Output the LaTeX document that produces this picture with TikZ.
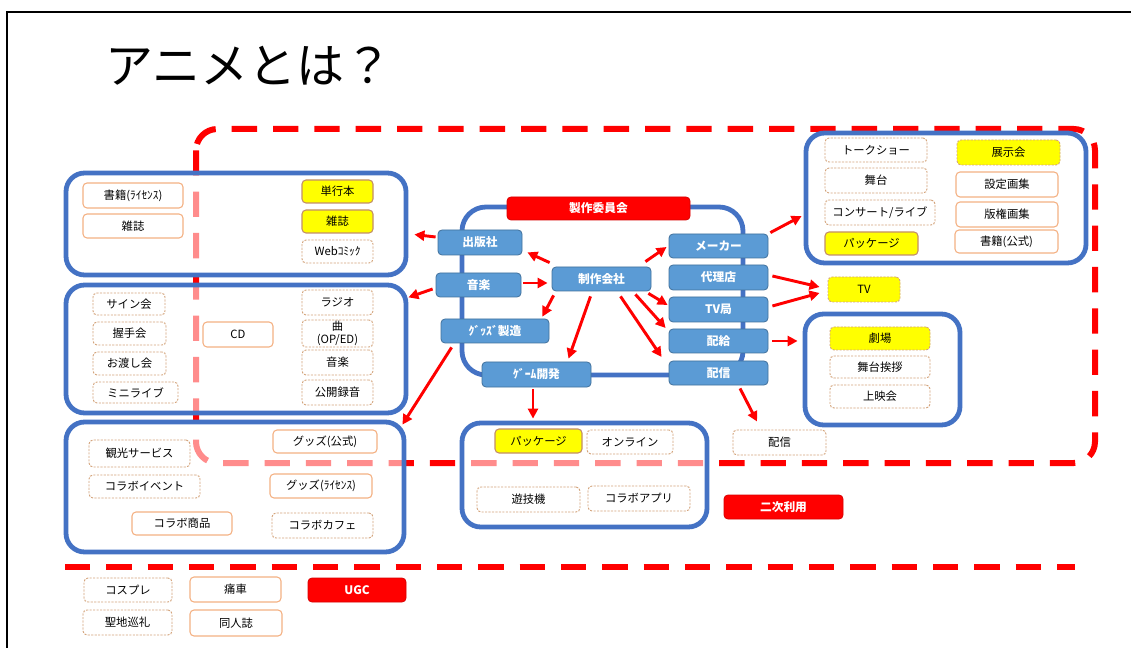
\documentclass[tikz,border=0pt]{standalone}
\usepackage{fontspec}
\setmainfont{Noto Sans CJK JP}
\usetikzlibrary{arrows.meta,calc}
\definecolor{ringblue}{HTML}{4472C4}
\definecolor{nodeblue}{HTML}{5B9BD5}
\definecolor{nodeedge}{HTML}{41719C}
\definecolor{tanline}{HTML}{F4B183}
\definecolor{tandash}{HTML}{D4A47C}
\definecolor{yel}{HTML}{FFFF00}
\definecolor{rd}{HTML}{FF0000}
\newcommand{\bx}[7]{\node[#1, minimum width={(#5-#3)*0.75pt}, minimum height={(#6-#4)*0.75pt}] (#2) at ({(#3+#5)/2},{(#4+#6)/2}) {#7};}
\tikzset{
  every node/.style={inner sep=0pt, font=\fontsize{8.5}{9.5}\selectfont},
  sbox/.style={draw=tanline, line width=0.8pt, rounded corners=3pt, fill=white},
  dbox/.style={draw=tandash, line width=0.7pt, dash pattern=on 1.6pt off 1pt, rounded corners=3pt, fill=white},
  ysbox/.style={sbox, fill=yel, draw=tanline!80!black},
  ydbox/.style={dbox, fill=yel},
  bnode/.style={draw=nodeedge, line width=0.6pt, fill=nodeblue, rounded corners=3pt, text=white, font=\bfseries\fontsize{8.8}{10}\selectfont},
  rnode/.style={draw=rd!85!black, line width=0.6pt, fill=rd, rounded corners=3pt, text=white, font=\bfseries\fontsize{8.8}{10}\selectfont},
  bframe/.style={draw=ringblue, line width=3.6pt, rounded corners=14pt, fill=white, fill opacity=0.55},
  ringframe/.style={draw=ringblue, line width=3.6pt, rounded corners=18pt},
  reddash/.style={draw=rd, line width=4.5pt, dash pattern=on 19pt off 12pt},
  arr/.style={draw=rd, line width=2.2pt, -{Triangle[length=7.5pt,width=7.5pt]}},
}
\begin{document}
\begin{tikzpicture}[x=0.75pt,y=-0.75pt]
\useasboundingbox (0,0) rectangle (1131,648);
\fill[white] (0,0) rectangle (1131,648);
% frame
\draw[line width=2.2pt] (7,648) -- (7,12) -- (1131,12);
% title
\node[anchor=west, font=\fontsize{36}{40}\selectfont] (title) at (105,66) {アニメとは？};
% outer dashed regions
\draw[reddash, rounded corners=16pt] (196,129) rectangle (1095,463);
\draw[reddash] (65,567) -- (1075,567);
% blue frames
\bx{bframe}{tl}{66}{173}{406}{275}{}
\bx{bframe}{ml}{66}{285}{406}{413}{}
\bx{bframe}{bl}{66}{422}{404}{552}{}
\bx{bframe}{rt}{806}{133}{1086}{263}{}
\bx{bframe}{thb}{805}{314}{960}{425}{}
\bx{bframe}{bc}{462}{423}{707}{527}{}
\bx{ringframe}{ring}{462}{207}{743}{375}{}
% top-left
\bx{sbox}{a1}{83}{183}{183}{208}{書籍(ﾗｲｾﾝｽ)}
\bx{sbox}{a2}{83}{214}{183}{238}{雑誌}
\bx{ysbox}{a3}{302}{180}{373}{203}{単行本}
\bx{ysbox}{a4}{302}{210}{373}{233}{雑誌}
\bx{dbox}{a5}{302}{240}{373}{263}{Webｺﾐｯｸ}
% middle-left
\bx{dbox}{b1}{93}{293}{165}{315}{サイン会}
\bx{dbox}{b2}{93}{322}{166}{345}{握手会}
\bx{dbox}{b3}{93}{352}{166}{375}{お渡し会}
\bx{dbox}{b4}{93}{382}{178}{403}{ミニライブ}
\bx{sbox}{b5}{203}{322}{273}{347}{CD}
\bx{dbox}{b6}{302}{290}{373}{315}{ラジオ}
\bx{dbox, align=center, font=\fontsize{8.5}{10}\selectfont}{b7}{302}{320}{373}{347}{曲\\(OP/ED)}
\bx{dbox}{b8}{302}{350}{373}{375}{音楽}
\bx{dbox}{b9}{302}{380}{373}{405}{公開録音}
% bottom-left
\bx{dbox}{c1}{89}{440}{190}{467}{観光サービス}
\bx{sbox}{c2}{273}{430}{377}{453}{グッズ(公式)}
\bx{dbox}{c3}{89}{475}{200}{498}{コラボイベント}
\bx{sbox}{c4}{270}{474}{372}{498}{グッズ(ﾗｲｾﾝｽ)}
\bx{sbox}{c5}{132}{512}{232}{535}{コラボ商品}
\bx{dbox}{c6}{272}{513}{373}{538}{コラボカフェ}
% right-top
\bx{dbox}{d1}{825}{138}{927}{162}{トークショー}
\bx{ydbox}{d2}{957}{140}{1060}{165}{展示会}
\bx{dbox}{d3}{825}{168}{927}{193}{舞台}
\bx{sbox}{d4}{956}{172}{1058}{197}{設定画集}
\bx{dbox}{d5}{825}{200}{935}{225}{コンサート/ライブ}
\bx{sbox}{d6}{956}{202}{1058}{227}{版権画集}
\bx{ysbox}{d7}{825}{232}{918}{255}{パッケージ}
\bx{sbox}{d8}{955}{230}{1058}{253}{書籍(公式)}
% TV and theater
\bx{ydbox}{tv}{828}{277}{900}{302}{TV}
\bx{ydbox}{e1}{830}{327}{930}{350}{劇場}
\bx{dbox}{e2}{830}{356}{930}{378}{舞台挨拶}
\bx{dbox}{e3}{830}{385}{930}{408}{上映会}
% bottom-center
\bx{ysbox}{f1}{495}{429}{582}{453}{パッケージ}
\bx{dbox}{f2}{587}{430}{673}{454}{オンライン}
\bx{dbox}{f3}{477}{487}{580}{512}{遊技機}
\bx{dbox}{f4}{588}{486}{690}{511}{コラボアプリ}
\bx{dbox}{h2}{733}{430}{826}{455}{配信}
\bx{rnode}{niji}{724}{495}{843}{519}{二次利用}
% bottom
\bx{dbox}{g1}{84}{578}{172}{602}{コスプレ}
\bx{sbox}{g2}{190}{577}{281}{602}{痛車}
\bx{rnode}{ugc}{308}{578}{406}{602}{UGC}
\bx{dbox}{g4}{83}{610}{172}{635}{聖地巡礼}
\bx{sbox}{g5}{190}{610}{282}{636}{同人誌}
% center
\bx{rnode}{iinkai}{507}{197}{690}{220}{製作委員会}
\bx{bnode}{pub}{438}{230}{522}{255}{出版社}
\bx{bnode}{music}{436}{273}{521}{297}{音楽}
\bx{bnode}{goods}{441}{319}{549}{343}{ｸﾞｯｽﾞ製造}
\bx{bnode}{game}{482}{362}{591}{387}{ｹﾞｰﾑ開発}
\bx{bnode}{prod}{552}{267}{651}{291}{制作会社}
\bx{bnode}{maker}{669}{234}{768}{258}{メーカー}
\bx{bnode}{dairi}{669}{265}{768}{290}{代理店}
\bx{bnode}{tvk}{669}{297}{768}{322}{TV局}
\bx{bnode}{haikyu}{669}{329}{768}{353}{配給}
\bx{bnode}{haishin}{669}{361}{768}{385}{配信}
% arrows
\draw[arr] ($(pub.west)+(-2,-5.5)$) -- ($(tl.east |- pub.west)+(6,-8)$);
\draw[arr] ($(music.west)+(-3,4)$) -- (ml.east |- music.south);
\draw[arr] ($(prod.north west)+(-2,-4)$) -- ($(pub.south east)+(5,-3)$);
\draw[arr] ($(music.east)+(2,-2)$) -- ($(prod.west)+(-4,4)$);
\draw[arr] ($(prod.south west)+(2,4)$) -- ($(goods.north east)+(-7,-2)$);
\draw[arr] ($(prod.south)+(-11,5)$) -- ($(game.north)+(32,-3)$);
\draw[arr] ($(prod.south)+(19,5)$) -- ($(haishin.west)+(-7,-16)$);
\draw[arr] ($(prod.south east)+(-16,3)$) -- ($(haikyu.west)+(-3,-13)$);
\draw[arr] ($(prod.south east)+(-3,2)$) -- ($(tvk.west)+(-1,-4.5)$);
\draw[arr] ($(prod.north east)+(-6,-5)$) -- ($(maker.west)+(-2,1)$);
\draw[arr] ($(goods.south west)+(11,4)$) -- ($(bl.north east)+(-4,5)$);
\draw[arr] ($(game.south)+(-3.5,2)$) -- ($(bc.north -| game.south)+(-3.5,-2)$);
\draw[arr] ($(haishin.south)+(21.5,3)$) -- ($(h2.north)+(-22.5,-8)$);
\draw[arr] ($(maker.north east)+(2,-1)$) -- ($(rt.west)+(-2,18)$);
\draw[arr] ($(dairi.east)+(4,-1.5)$) -- ($(tv.west)+(-8,-2.5)$);
\draw[arr] ($(tvk.east)+(4,-3.5)$) -- ($(tv.west)+(-8,3.5)$);
\draw[arr] ($(haikyu.east)+(4,0)$) -- ($(thb.west |- haikyu.east)+(-5,0)$);
\end{tikzpicture}
\end{document}
